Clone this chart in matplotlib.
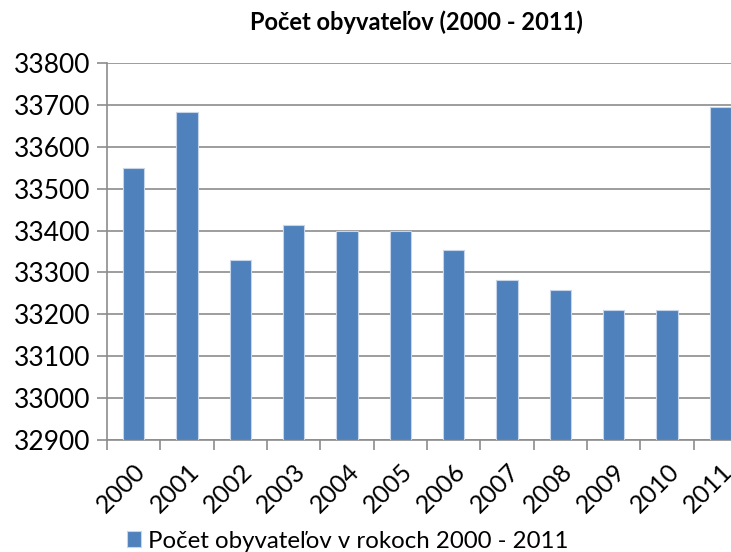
import numpy as np
import matplotlib.pyplot as plt

# Data
YEARS = [str(y) for y in range(2000, 2012)]
POPULATION = [33550, 33682, 33330, 33414, 33400, 33400,
              33354, 33282, 33258, 33210, 33210, 33694]
Y_TICKS = list(range(32900, 33801, 100))

TITLE = "Počet obyvateľov (2000 - 2011)"
SERIES_NAME = "Počet obyvateľov v rokoch 2000 - 2011"

BAR_COLOR = "#4F81BD"
GRID_COLOR = "#8C8C8C"

plt.rcParams['font.family'] = ['Lato', 'DejaVu Sans']

fig = plt.figure(figsize=(7.31, 5.52), dpi=100)
# plot area runs past the right edge, like the cropped original
ax = fig.add_axes([107 / 731, 112 / 552, 640 / 731, 377 / 552])

x = np.arange(len(YEARS))
ax.bar(x, [v - Y_TICKS[0] for v in POPULATION], bottom=Y_TICKS[0], width=0.4,
       color=BAR_COLOR, edgecolor="#C6D5EA", linewidth=0.8, zorder=3,
       label=SERIES_NAME)

ax.set_xlim(-0.5, len(YEARS) - 0.5)
ax.set_ylim(Y_TICKS[0], Y_TICKS[-1])
ax.set_yticks(Y_TICKS)
ax.yaxis.grid(True, color=GRID_COLOR, linewidth=1.2, zorder=0)

ax.set_xticks(x)
ax.set_xticklabels(YEARS, rotation=45, ha='right', rotation_mode='anchor')
ax.set_xticks(np.arange(-0.5, len(YEARS), 1.0), minor=True)
ax.tick_params(axis='x', which='major', length=0, pad=14, labelsize=18)
ax.tick_params(axis='x', which='minor', length=7, color=GRID_COLOR, width=1.2)
ax.tick_params(axis='y', length=7, color=GRID_COLOR, width=1.2, labelsize=19, pad=5)

for side in ['top', 'right']:
    ax.spines[side].set_visible(False)
for side in ['left', 'bottom']:
    ax.spines[side].set_color(GRID_COLOR)
    ax.spines[side].set_linewidth(1.2)

fig.text(416 / 731, 1 - 22 / 552, TITLE, ha='center', va='center',
         fontsize=17, fontweight='bold')

fig.legend(loc='center left', bbox_to_anchor=(117 / 731, 1 - 541 / 552),
           frameon=False, fontsize=17.3, handlelength=0.6, handleheight=0.6,
           handletextpad=0.3, borderaxespad=0)

fig.savefig("out.png", dpi=100)
